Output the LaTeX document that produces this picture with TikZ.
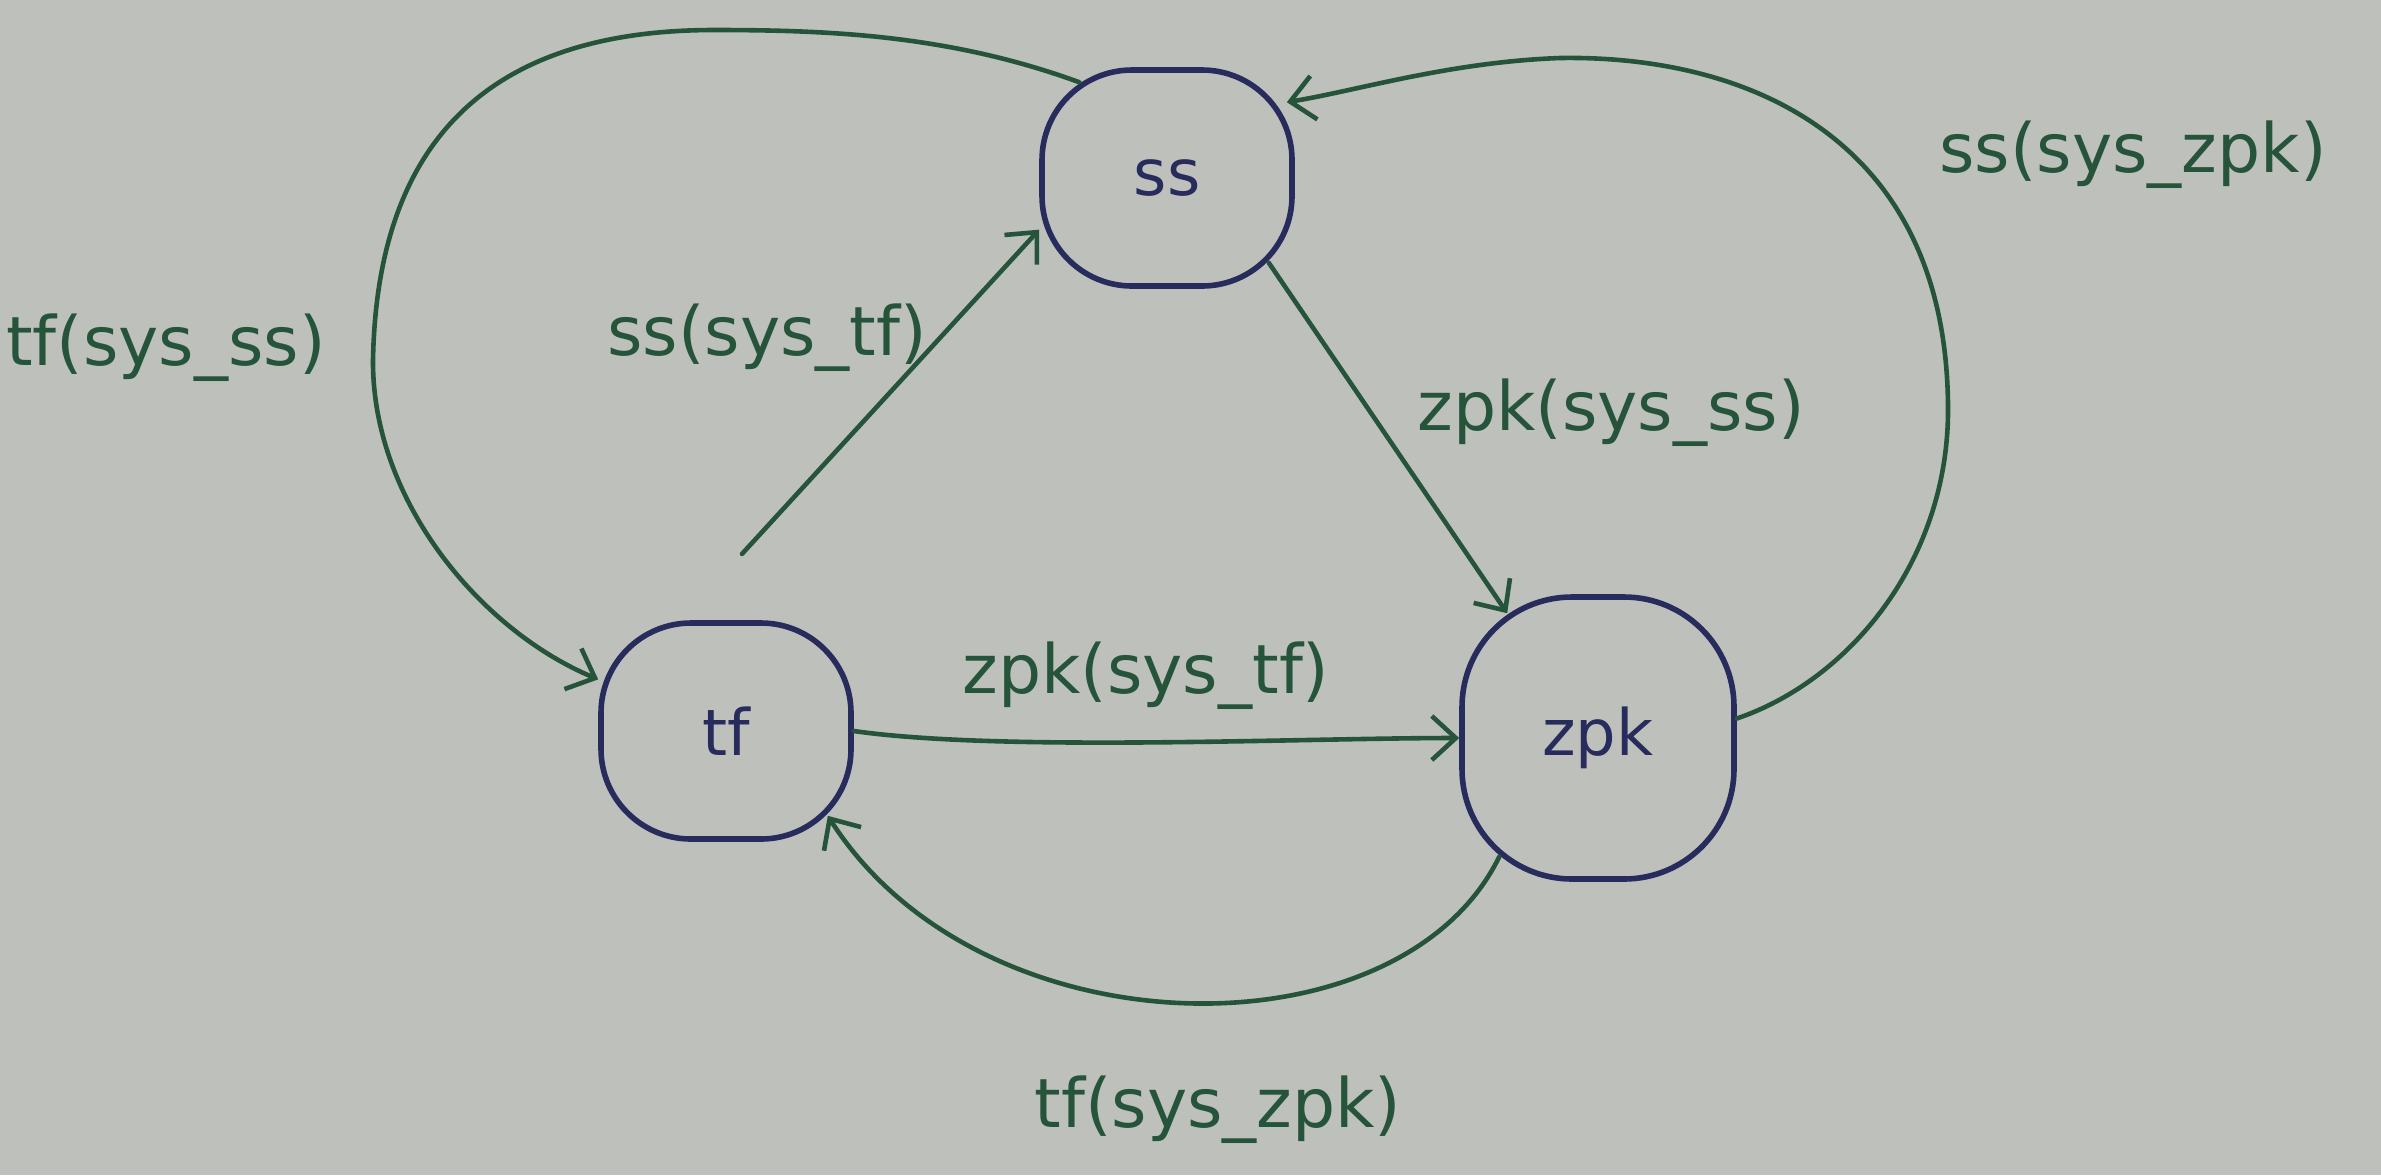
\documentclass[tikz,border=0pt]{standalone}
\usepackage{fontspec}
\setmainfont{DejaVu Sans}
\usetikzlibrary{arrows.meta,calc}
\definecolor{paper}{RGB}{190,192,188}
\definecolor{ink}{RGB}{38,84,58}
\definecolor{navy}{RGB}{40,44,92}
\begin{document}
\begin{tikzpicture}[x=0.5pt,y=-0.5pt,
  state/.style={draw=navy,line width=2.8pt,rounded corners=45pt,minimum width=125pt,minimum height=108pt,inner sep=0pt,text=navy,font=\fontsize{32}{38}\selectfont},
  conn/.style={draw=ink,line width=2.3pt,line cap=round,-{Straight Barb[length=12pt,width=22pt]}},
  lbl/.style={text=ink,font=\fontsize{34}{40}\selectfont,inner sep=0pt}]
\fill[paper] (0,0) rectangle (2381,1175);
\useasboundingbox (0,0) rectangle (2381,1175);
% states
\node[state] (ss) at (1167,178) {ss};
\node[state] (tf) at (726,731) {tf};
\node[state,rounded corners=55pt,minimum width=136pt,minimum height=141pt] (zpk) at (1598,738) {zpk};
% connectors
\draw[conn,shorten <=45pt] (tf.112) -- (ss.202);
\draw[conn] ($(ss.south east)+(-26,-26)$) -- ($(zpk.north west)+(48,19)$);
\draw[conn] (tf.east) .. controls (1000,752) and (1300,738) .. (zpk.west);
\draw[conn] ($(zpk.south west)+(40,-25)$) .. controls (1400,1060) and (981,1056) .. ($(tf.south east)+(-26,-26)$);
\draw[conn] ($(ss.north west)+(40,15)$) .. controls (950,35) and (830,30) .. (714,30)
   .. controls (480,30) and (377,150) .. (373,360)
   .. controls (372,500) and (480,630) .. (tf.158);
\draw[conn] (zpk.8) .. controls (1850,680) and (1948,560) .. (1948,410)
   .. controls (1948,140) and (1750,55) .. (1560,58)
   .. controls (1450,62) and (1360,90) .. ($(ss.north east)+(-8,35)$);
% labels
\node[lbl] (l1) at (166,348) {tf(sys\_ss)};
\node[lbl] (l2) at (767,338) {ss(sys\_tf)};
\node[lbl] (l3) at (1611,413) {zpk(sys\_ss)};
\node[lbl] (l4) at (2133,155) {ss(sys\_zpk)};
\node[lbl] (l5) at (1146,676) {zpk(sys\_tf)};
\node[lbl] (l6) at (1218,1110) {tf(sys\_zpk)};
\end{tikzpicture}
\end{document}
